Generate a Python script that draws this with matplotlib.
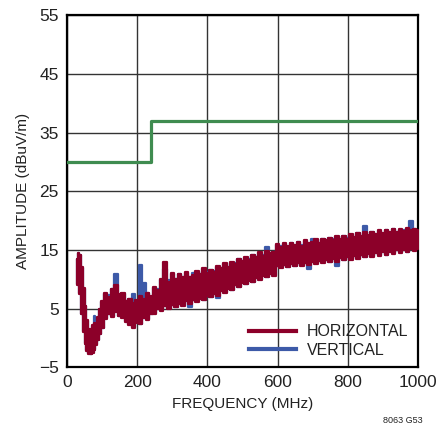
import matplotlib
matplotlib.use("Agg")
import matplotlib.pyplot as plt
from matplotlib.lines import Line2D

plt.rcParams['font.family'] = ['Liberation Sans', 'DejaVu Sans']

# frequency grid of the scan (MHz)
freq = [28, 33, 38, 43, 48, 53, 58, 63, 68, 73, 78, 83, 88, 93, 98,
        110, 120, 130, 140, 150, 160, 170, 180, 190, 200,
        210, 220, 230, 240, 250, 260, 270, 280, 290, 300,
        310, 320, 330, 340, 350, 360, 370, 380, 390, 400,
        410, 420, 430, 440, 450, 460, 470, 480, 490, 500,
        510, 520, 530, 540, 550, 560, 570, 580, 590, 600,
        610, 620, 630, 640, 650, 660, 670, 680, 690, 700,
        710, 720, 730, 740, 750, 760, 770, 780, 790, 800,
        810, 820, 830, 840, 850, 860, 870, 880, 890, 900,
        910, 920, 930, 940, 950, 960, 970, 980, 990, 1000]

# horizontal polarisation, upper / lower edge of the trace (dBuV/m)
horiz_hi = [13.5, 14.4, 14.2, 12.0, 8.5, 5.5, 3.0, 1.5, 1.5, 2.2, 2.6, 2.4, 3.5, 5.0, 6.2,
            7.6, 7.0, 8.4, 9.0, 7.4, 7.6, 6.3, 6.7, 6.0, 6.4,
            7.2, 6.7, 7.7, 7.1, 8.6, 8.2, 10.0, 13.0, 9.6, 11.0,
            10.1, 10.8, 10.4, 11.2, 10.4, 10.7, 11.4, 10.9, 11.9, 11.0,
            11.6, 11.3, 12.2, 11.9, 12.7, 12.1, 12.9, 12.6, 13.5, 13.1,
            13.7, 13.3, 14.2, 13.8, 14.6, 14.0, 14.8, 14.4, 14.7, 16.0,
            15.4, 16.1, 15.6, 16.2, 15.8, 16.4, 15.7, 16.6, 16.1, 16.3,
            16.8, 16.2, 16.9, 16.6, 17.1, 16.6, 17.3, 16.8, 17.4, 16.9,
            17.7, 17.2, 17.9, 17.4, 18.0, 17.5, 18.1, 17.7, 18.3, 17.8,
            18.4, 18.0, 18.6, 18.1, 18.5, 18.2, 18.7, 18.3, 18.6, 18.3]
horiz_lo = [9.0, 10.5, 7.5, 4.0, 1.0, -1.0, -2.2, -2.7, -2.8, -2.6, -2.0, -1.2, -0.4, 0.6, 1.6,
            3.2, 4.0, 3.6, 4.4, 3.7, 3.4, 2.7, 2.2, 1.7, 2.6,
            2.3, 3.3, 3.1, 4.0, 4.1, 4.9, 4.6, 5.4, 5.0, 5.6,
            5.2, 5.8, 5.5, 6.2, 5.8, 6.4, 6.1, 6.7, 6.4, 7.1,
            6.9, 7.5, 7.2, 8.0, 7.7, 8.4, 8.1, 9.0, 8.6, 9.4,
            9.1, 9.7, 9.5, 10.2, 9.9, 10.6, 10.3, 10.9, 10.6, 12.2,
            11.9, 12.5, 12.0, 12.6, 12.2, 12.7, 12.3, 12.8, 12.5, 13.0,
            12.6, 13.1, 12.8, 13.3, 12.9, 13.4, 13.0, 13.6, 13.2, 13.7,
            13.3, 13.9, 13.5, 14.1, 13.7, 14.3, 13.8, 14.4, 14.0, 14.6,
            14.1, 14.7, 14.3, 14.9, 14.5, 15.0, 14.6, 15.2, 14.8, 15.2]

# vertical polarisation, upper / lower edge of the trace (dBuV/m)
vert_hi = [13.4, 14.5, 14.1, 11.9, 8.4, 5.4, 2.9, 1.4, 1.4, 2.1, 3.8, 2.3, 3.4, 4.9, 6.1,
           7.5, 7.3, 8.3, 10.8, 7.3, 7.5, 6.2, 6.6, 7.4, 6.3,
           12.5, 9.3, 7.6, 7.0, 8.5, 8.4, 9.9, 11.8, 9.8, 10.9,
           10.0, 10.9, 10.3, 11.1, 10.3, 11.0, 11.3, 10.8, 11.8, 11.2,
           11.5, 11.4, 12.1, 11.8, 12.6, 12.0, 12.8, 12.7, 13.4, 13.0,
           13.6, 13.5, 14.1, 13.7, 14.5, 14.1, 15.4, 14.3, 14.6, 15.9,
           15.6, 16.0, 15.5, 16.1, 15.7, 16.3, 15.9, 16.5, 16.0, 16.8,
           16.7, 16.1, 16.8, 16.5, 17.0, 16.8, 17.2, 16.7, 17.3, 17.0,
           17.6, 17.1, 17.8, 17.3, 19.0, 17.4, 18.0, 17.6, 18.2, 17.7,
           18.3, 17.9, 18.5, 18.0, 18.4, 18.3, 18.6, 19.9, 18.5, 18.2]
vert_lo = [9.1, 10.6, 7.6, 4.1, 1.1, -0.9, -2.1, -2.6, -2.7, -2.5, -1.9, -1.1, -0.3, 0.7, 1.7,
           3.3, 4.1, 3.7, 4.5, 3.8, 3.5, 2.8, 2.3, 1.8, 2.7,
           2.4, 3.4, 3.2, 4.1, 4.2, 5.0, 4.7, 5.5, 5.1, 5.7,
           5.3, 5.9, 5.6, 6.3, 5.2, 6.5, 6.2, 6.8, 6.5, 7.2,
           7.0, 7.6, 6.8, 8.1, 7.8, 8.5, 8.2, 9.1, 8.7, 9.5,
           9.2, 9.8, 9.6, 10.3, 10.0, 10.7, 10.4, 11.0, 10.7, 12.3,
           12.0, 12.6, 12.1, 12.7, 12.3, 12.8, 12.4, 12.9, 11.8, 13.1,
           12.7, 13.2, 12.9, 13.4, 13.0, 13.5, 12.3, 13.7, 13.3, 13.8,
           13.4, 14.0, 13.6, 14.2, 13.8, 14.4, 13.9, 14.5, 14.1, 14.7,
           14.2, 14.8, 14.4, 15.0, 14.6, 15.1, 14.7, 15.3, 14.9, 15.3]

# radiated emission limit line
limit_f = [0, 240, 240, 1000]
limit_db = [30, 30, 37, 37]

RED = '#8c0029'
BLUE = '#3d5aa8'
GREEN = '#3f8c50'
TXT = '#222222'

fig = plt.figure(figsize=(4.38, 4.34), dpi=100)
ax = fig.add_axes([0.153, 0.154, 0.801, 0.811])

ax.fill_between(freq, vert_lo, vert_hi, step='mid', color=BLUE, lw=1.6,
                edgecolor=BLUE, joinstyle='round', zorder=3)
ax.fill_between(freq, horiz_lo, horiz_hi, step='mid', color=RED, lw=1.6,
                edgecolor=RED, joinstyle='round', zorder=4)
ax.plot(limit_f, limit_db, color=GREEN, lw=2.3, zorder=5)

ax.set_xlim(0, 1000)
ax.set_ylim(-5, 55)
ax.set_xticks(range(0, 1001, 200))
ax.set_yticks(range(-5, 56, 10))
ax.tick_params(length=0, labelsize=12.5, pad=6, colors=TXT)
ax.grid(True, color='#333333', lw=1.0)
ax.set_axisbelow(True)
for sp in ax.spines.values():
    sp.set_linewidth(1.6)

ax.set_xlabel('FREQUENCY (MHz)', fontsize=11, color=TXT, labelpad=5)
ax.set_ylabel('AMPLITUDE (dBuV/m)', fontsize=11, color=TXT, labelpad=6)

handles = [Line2D([], [], color=RED, lw=3),
           Line2D([], [], color=BLUE, lw=3)]
leg = ax.legend(handles, ['HORIZONTAL', 'VERTICAL'], loc='lower right',
                frameon=False, fontsize=11.5, handlelength=2.9,
                handletextpad=0.7, labelspacing=0.2, borderaxespad=0.2)
for t in leg.get_texts():
    t.set_color(TXT)

fig.text(0.965, 0.02, '8063 G53', fontsize=6.5, ha='right', va='bottom',
         color=TXT)

fig.savefig('out.png', dpi=100)
